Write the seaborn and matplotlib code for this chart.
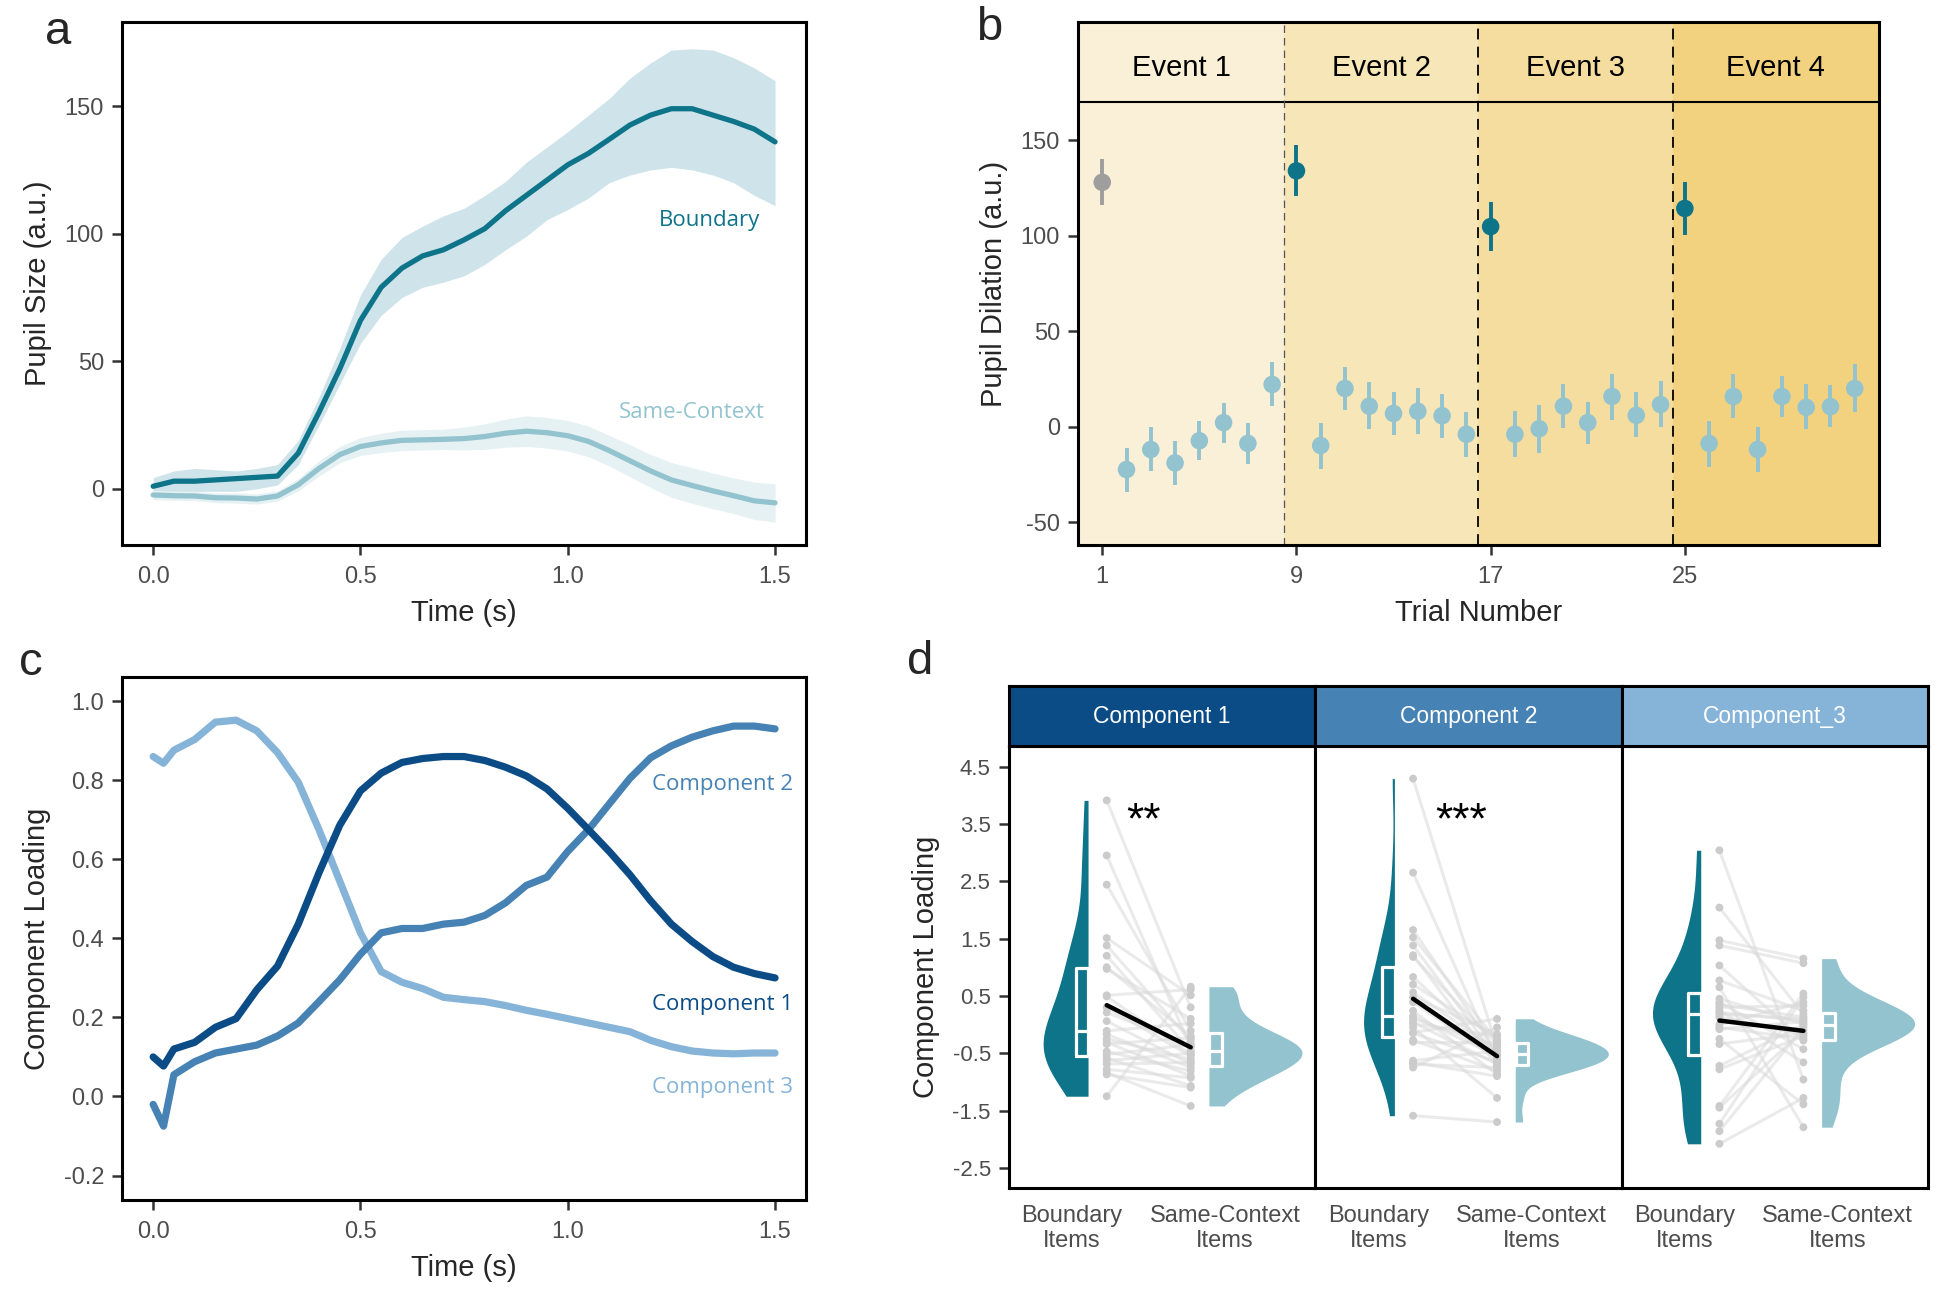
import numpy as np
import pandas as pd
import matplotlib
matplotlib.use("Agg")
import matplotlib.pyplot as plt
import seaborn as sns

sns.set_style("white")
plt.rcParams['font.family'] = ['Liberation Sans', 'DejaVu Sans']

# ---------------- Panel a data ----------------
time_a = [0.00, 0.05, 0.10, 0.15, 0.20, 0.25, 0.30, 0.35, 0.40, 0.45, 0.50,
          0.55, 0.60, 0.65, 0.70, 0.75, 0.80, 0.85, 0.90, 0.95, 1.00,
          1.05, 1.10, 1.15, 1.20, 1.25, 1.30, 1.35, 1.40, 1.45, 1.50]
bnd_mean = [1, 3, 3, 3.5, 4, 4.5, 5, 14, 30, 47, 66, 79, 86.5, 91.3, 93.7, 97.6,
            102, 109, 115, 121, 127, 131.5, 137, 142.6, 146.5, 149, 149, 146.5, 144, 141, 136]
bnd_hi = [4.4, 7, 8, 7.5, 7, 8, 9.5, 19, 36, 55, 76, 90, 98.5, 103, 107, 110,
          115, 120.5, 128, 134, 140, 146.5, 153, 161, 167, 172, 172.5, 172, 169, 165, 160]
bnd_lo = [-3, -1, -1, -1, -1, 0, 1.5, 9.5, 25, 41, 57, 68, 75, 79, 81, 83.5,
          88, 93.7, 99, 105.5, 109.5, 114, 120, 123, 125, 126, 125, 123, 120, 115, 111]
same_mean = [-2.4, -2.7, -2.8, -3.5, -3.6, -4.0, -2.8, 1.6, 8, 13.4, 16.6, 18, 19, 19.2,
             19.4, 19.7, 20.5, 21.8, 22.6, 22, 20.8, 18.6, 15, 11, 7, 3.5, 1.3, -0.8, -2.7, -4.7, -5.5]
same_hi = [-0.6, -0.9, -1.0, -1.6, -1.6, -2.0, -0.8, 4.0, 11, 16.6, 20.1, 21.8, 23.0, 23.2,
           23.4, 24.2, 25.5, 27.3, 28.6, 28.0, 26.8, 24.6, 21.0, 17.3, 13.5, 10.3, 8.3, 6.2, 4.3, 2.6, 2.0]
same_lo = [-4.2, -4.5, -4.6, -5.4, -5.6, -6.0, -4.8, -0.8, 5, 10.2, 13.1, 14.2, 15.0, 15.2,
           15.4, 15.2, 15.5, 16.3, 16.6, 16.0, 14.8, 12.6, 9.0, 4.7, 0.5, -3.3, -5.7, -7.8, -9.7, -12.0, -13.0]

# ---------------- Panel b data ----------------
trials = list(range(1, 33))
dilation = [128, -22.5, -12, -19, -7.4, 2.1, -8.8, 22.1,
            134, -9.9, 20, 10.7, 6.9, 8, 5.7, -4,
            104.8, -4, -1.1, 10.7, 2.1, 15.8, 5.9, 11.6,
            114.3, -8.8, 15.8, -12, 15.8, 10.1, 10.5, 20]
dil_lo = [116, -34, -23, -30.5, -17.3, -8.4, -19.4, 10.7,
          121, -22.1, 8.6, -1.5, -4.6, -4, -6.1, -15.8,
          92.2, -15.8, -13.7, -0.8, -9.3, 3.4, -5.7, 0,
          100.6, -21, 4.4, -23.6, 4.8, -1, 0, 7.6]
dil_hi = [140.2, -11, -0.4, -7.4, 2.7, 12.6, 2.1, 33.9,
          147.4, 2.1, 31, 23.2, 18.1, 20, 17, 7.6,
          117.5, 8, 11.2, 22.3, 12.8, 27.6, 17.9, 23.8,
          128, 3.2, 27.6, -0.4, 26.5, 22.1, 21.7, 32.8]
trial_type = (["First"] + ["Same"] * 7 + ["Boundary"] + ["Same"] * 7 +
              ["Boundary"] + ["Same"] * 7 + ["Boundary"] + ["Same"] * 7)
event_labels = ["Event 1", "Event 2", "Event 3", "Event 4"]
event_start = [0, 8.5, 16.5, 24.5]
event_end = [8.5, 16.5, 24.5, 33]

# ---------------- Panel c data ----------------
time_c = [0.00, 0.025, 0.05, 0.10, 0.15, 0.20, 0.25, 0.30, 0.35, 0.40, 0.45, 0.50,
          0.55, 0.60, 0.65, 0.70, 0.75, 0.80, 0.85, 0.90, 0.95, 1.00,
          1.05, 1.10, 1.15, 1.20, 1.25, 1.30, 1.35, 1.40, 1.45, 1.50]
comp1 = [0.10, 0.077, 0.12, 0.137, 0.175, 0.197, 0.27, 0.33, 0.436, 0.566, 0.686, 0.773,
         0.818, 0.845, 0.855, 0.86, 0.86, 0.85, 0.833, 0.811, 0.778, 0.729,
         0.675, 0.62, 0.561, 0.495, 0.436, 0.392, 0.354, 0.327, 0.311, 0.30]
comp2 = [-0.02, -0.075, 0.055, 0.088, 0.11, 0.12, 0.13, 0.153, 0.186, 0.24, 0.295, 0.36,
         0.414, 0.425, 0.425, 0.436, 0.441, 0.458, 0.49, 0.534, 0.555, 0.62,
         0.675, 0.74, 0.805, 0.857, 0.887, 0.909, 0.925, 0.937, 0.937, 0.93]
comp3 = [0.86, 0.843, 0.876, 0.903, 0.947, 0.952, 0.925, 0.87, 0.795, 0.675, 0.545, 0.414,
         0.316, 0.289, 0.273, 0.251, 0.245, 0.24, 0.23, 0.218, 0.208, 0.197,
         0.186, 0.175, 0.164, 0.142, 0.126, 0.115, 0.11, 0.108, 0.11, 0.11]

# ---------------- Panel d data ----------------
d_boundary_1 = [3.91, 2.95, 2.44, 1.51, 1.38, 1.20, 1.00, 0.97, 0.51, 0.49, 0.30, 0.21, 0.06,
                -0.11, -0.17, -0.25, -0.31, -0.34, -0.47, -0.52, -0.58, -0.63, -0.69, -0.78,
                -0.84, -0.87, -1.25]
d_same_1 = [0.30, -0.40, -0.11, 0.51, -0.28, -0.46, -0.20, 0.10, 0.61, -0.52, -0.55, -0.37, -0.69,
            0.02, -0.75, -0.61, -0.90, -0.23, -0.81, -0.35, -1.07, -0.50, -0.66, -0.93,
            -1.42, -1.10, 0.66]
d_boundary_2 = [4.29, 2.65, 1.65, 1.52, 1.38, 1.21, 1.18, 0.83, 0.70, 0.56, 0.48, 0.39, 0.24,
                0.15, 0.10, 0.04, 0.01, -0.05, -0.14, -0.15, -0.27, -0.30, -0.63, -0.66,
                -0.69, -0.75, -1.59]
d_same_2 = [-0.40, -0.63, -0.49, -0.28, -0.58, -0.72, -0.34, -0.52, -0.23, -0.45, -0.17, -0.60, -0.87,
            -0.55, -0.38, -0.69, -0.20, -1.28, 0.10, -0.65, -0.81, -0.30, -0.46, -0.90,
            -0.75, -0.05, -1.70]
d_boundary_3 = [3.04, 2.04, 1.47, 1.38, 1.03, 0.77, 0.65, 0.45, 0.39, 0.35, 0.30, 0.25, 0.21,
                0.18, 0.13, 0.0, -0.05, -0.08, -0.25, -0.34, -0.72, -0.78, -1.42, -1.45,
                -1.73, -1.86, -2.08]
d_same_3 = [-0.96, 0.18, 1.15, 1.07, -0.28, 0.24, -1.79, 0.01, -0.43, 0.13, 0.33, -0.66, 0.07,
            0.10, -0.17, 0.39, -0.25, 0.05, -1.39, -0.15, 0.0, -0.20, 0.54, -0.10,
            0.48, -0.05, -1.28]
d_components = ["Component 1", "Component 2", "Component_3"]
d_stars = ["**", "***", ""]
d_xlabels = ["Boundary\nItems", "Same-Context\nItems"]

# ---------------- Styling ----------------
TEAL = "#0E7489"
LIGHT = "#93C3CE"
GREY = "#9E9E9E"
C1 = "#0B4C87"
C2 = "#4682B4"
C3 = "#86B4D9"
TICKC = "#4D4D4D"
EVENT_COLS = ["#FAF0D8", "#F7E6B8", "#F5DD9F", "#F2D27E"]
LABEL_FS = 21
TICK_FS = 17

fig = plt.figure(figsize=(19.5, 13.16), dpi=100)


def style_axes(ax):
    for s in ax.spines.values():
        s.set_visible(True)
        s.set_color("black")
        s.set_linewidth(2.2)
    ax.tick_params(axis="both", which="both", direction="out", length=7, width=1.8,
                   color="#333333", labelsize=TICK_FS, labelcolor=TICKC, pad=6,
                   bottom=True, left=True)


# ---------------- Panel a ----------------
ax_a = fig.add_axes([0.0626, 0.5859, 0.3508, 0.3974])
ax_a.fill_between(time_a, bnd_lo, bnd_hi, color="#CFE4EA", lw=0)
ax_a.fill_between(time_a, same_lo, same_hi, color="#E6F1F4", lw=0)
df_a = pd.DataFrame({"time": time_a * 2, "pupil": bnd_mean + same_mean,
                     "cond": ["Boundary"] * len(time_a) + ["Same-Context"] * len(time_a)})
sns.lineplot(data=df_a, x="time", y="pupil", hue="cond", estimator=None,
             palette={"Boundary": TEAL, "Same-Context": LIGHT}, linewidth=3.8,
             legend=False, ax=ax_a)
ax_a.set_xlim(-0.075, 1.575)
ax_a.set_ylim(-22, 183)
ax_a.set_xticks([0, 0.5, 1.0, 1.5])
ax_a.set_xticklabels(["0.0", "0.5", "1.0", "1.5"])
ax_a.set_yticks([0, 50, 100, 150])
ax_a.set_yticklabels(["0", "50", "100", "150"])
style_axes(ax_a)
ax_a.tick_params(axis="x", pad=8)
ax_a.set_xlabel("Time (s)", fontsize=LABEL_FS, labelpad=8)
ax_a.set_ylabel("Pupil Size (a.u.)", fontsize=LABEL_FS, labelpad=9)
ax_a.text(1.343, 105, "Boundary", color=TEAL, fontsize=16, family=["Open Sans"],
          ha="center", va="center")
ax_a.text(1.298, 30, "Same-Context", color=LIGHT, fontsize=16, family=["Open Sans"],
          ha="center", va="center")

# ---------------- Panel b ----------------
ax_b = fig.add_axes([0.5528, 0.5859, 0.4108, 0.3974])
for s0, s1, col in zip(event_start, event_end, EVENT_COLS):
    ax_b.axvspan(s0, s1, color=col, lw=0, zorder=0)
ax_b.axhline(170, color="black", lw=1.5, zorder=1)
ax_b.axvline(event_start[1], color="#555555", lw=0.9, ls=(0, (6, 4)), zorder=1)
for xv in event_start[2:]:
    ax_b.axvline(xv, color="black", lw=1.3, ls=(0, (6, 4)), zorder=1)
pal_b = {"First": GREY, "Boundary": TEAL, "Same": LIGHT}
ax_b.vlines(trials, dil_lo, dil_hi, colors=[pal_b[t] for t in trial_type], lw=2.8, zorder=2)
df_b = pd.DataFrame({"trial": trials, "dilation": dilation, "type": trial_type})
sns.scatterplot(data=df_b, x="trial", y="dilation", hue="type", palette=pal_b,
                s=160, edgecolor="none", legend=False, ax=ax_b, zorder=3)
for lab, s0, s1 in zip(event_labels, event_start, event_end):
    ax_b.text((s0 + s1) / 2, 188, lab, fontsize=21, ha="center", va="center", color="black")
ax_b.set_xlim(0, 33)
ax_b.set_ylim(-62, 212)
ax_b.set_xticks([1, 9, 17, 25])
ax_b.set_xticklabels(["1", "9", "17", "25"])
ax_b.set_yticks([-50, 0, 50, 100, 150])
ax_b.set_yticklabels(["-50", "0", "50", "100", "150"])
style_axes(ax_b)
ax_b.tick_params(axis="x", pad=8)
ax_b.set_xlabel("Trial Number", fontsize=LABEL_FS, labelpad=8)
ax_b.set_ylabel("Pupil Dilation (a.u.)", fontsize=LABEL_FS, labelpad=9)

# ---------------- Panel c ----------------
ax_c = fig.add_axes([0.0626, 0.0881, 0.3508, 0.3974])
df_c = pd.DataFrame({"time": time_c * 3, "loading": comp1 + comp2 + comp3,
                     "comp": ["Component 1"] * len(time_c) + ["Component 2"] * len(time_c)
                     + ["Component 3"] * len(time_c)})
sns.lineplot(data=df_c, x="time", y="loading", hue="comp", estimator=None,
             palette={"Component 1": C1, "Component 2": C2, "Component 3": C3},
             hue_order=["Component 3", "Component 2", "Component 1"],
             linewidth=5.2, legend=False, ax=ax_c)
ax_c.set_xlim(-0.075, 1.575)
ax_c.set_ylim(-0.262, 1.061)
ax_c.set_xticks([0, 0.5, 1.0, 1.5])
ax_c.set_xticklabels(["0.0", "0.5", "1.0", "1.5"])
ax_c.set_yticks([-0.2, 0.0, 0.2, 0.4, 0.6, 0.8, 1.0])
ax_c.set_yticklabels(["-0.2", "0.0", "0.2", "0.4", "0.6", "0.8", "1.0"])
style_axes(ax_c)
ax_c.tick_params(axis="x", pad=8)
ax_c.set_xlabel("Time (s)", fontsize=LABEL_FS, labelpad=8)
ax_c.set_ylabel("Component Loading", fontsize=LABEL_FS, labelpad=9)
for lab, yv, col in [("Component 2", 0.789, C2), ("Component 1", 0.2315, C1),
                     ("Component 3", 0.023, C3)]:
    ax_c.text(1.374, yv, lab, color=col, fontsize=16, family=["Open Sans"],
              ha="center", va="center")

# ---------------- Panel d ----------------
d_bvals = [d_boundary_1, d_boundary_2, d_boundary_3]
d_svals = [d_same_1, d_same_2, d_same_3]
strip_cols = [C1, C2, C3]
lefts = [0.5174, 0.6745, 0.8316]
fw = 0.1571
VPOS = {"Boundary": 1.105, "Same": 1.895}
BPOS = {"Boundary": 1.066, "Same": 1.938}
PPOS = {"Boundary": 1.227, "Same": 1.776}
for i in range(3):
    ax = fig.add_axes([lefts[i], 0.0973, fw, 0.3359])
    b = d_bvals[i]
    s = d_svals[i]
    n = len(b)
    df = pd.DataFrame({"subj": list(range(n)) * 2,
                       "cond": ["Boundary"] * n + ["Same"] * n,
                       "val": b + s})
    df["vpos"] = df["cond"].map(VPOS)
    df["bpos"] = df["cond"].map(BPOS)
    df["ppos"] = df["cond"].map(PPOS)
    sns.violinplot(data=df, x="vpos", y="val", hue="cond", hue_order=["Boundary", "Same"],
                   palette={"Boundary": TEAL, "Same": LIGHT}, split=True, dodge=True,
                   native_scale=True, orient="x", inner=None, cut=0,
                   density_norm="area", common_norm=True, bw_method="silverman",
                   bw_adjust=0.85, width=1.54, linewidth=0, saturation=1,
                   legend=False, ax=ax)
    sns.boxplot(data=df, x="bpos", y="val", native_scale=True, orient="x",
                width=0.095, fill=False, color="white", linewidth=2.3, whis=0,
                showfliers=False, showcaps=False, ax=ax)
    sns.lineplot(data=df, x="ppos", y="val", units="subj", estimator=None,
                 color="#DADADA", alpha=0.55, linewidth=2.2, ax=ax)
    sns.scatterplot(data=df, x="ppos", y="val", color="#CBCBCB", s=32,
                    edgecolor="none", ax=ax, zorder=4)
    sns.lineplot(data=df, x="ppos", y="val", estimator="mean", errorbar=None,
                 color="black", linewidth=3.2, ax=ax, zorder=5)
    if d_stars[i]:
        ax.text(1.47 if i == 0 else 1.54, 3.33, d_stars[i], fontsize=32,
                ha="center", va="baseline", color="black")
    ax.set_xlim(0.588, 2.59)
    ax.set_ylim(-2.85, 4.86)
    ax.set_xticks([1, 2])
    ax.set_xticklabels(d_xlabels)
    ax.set_xlabel("")
    ax.set_ylabel("")
    style_axes(ax)
    ax.tick_params(axis="x", length=0, pad=12)
    ax.tick_params(axis="y", labelsize=16)
    if i == 0:
        ax.set_yticks([-2.5, -1.5, -0.5, 0.5, 1.5, 2.5, 3.5, 4.5])
        ax.set_yticklabels(["-2.5", "-1.5", "-0.5", "0.5", "1.5", "2.5", "3.5", "4.5"])
        ax.set_ylabel("Component Loading", fontsize=LABEL_FS, labelpad=9)
    else:
        ax.set_yticks([])
    # strip
    sax = fig.add_axes([lefts[i], 0.4331, fw, 0.0456])
    sax.set_facecolor(strip_cols[i])
    sax.set_xticks([])
    sax.set_yticks([])
    for sp in sax.spines.values():
        sp.set_visible(True)
        sp.set_color("black")
        sp.set_linewidth(2.2)
    sax.text(0.5, 0.5, d_components[i], color="white", fontsize=16.5,
             ha="center", va="center", transform=sax.transAxes)

# panel letters
for lab, xx, yy in [("a", 0.030, 0.976), ("b", 0.507, 0.979),
                    ("c", 0.016, 0.496), ("d", 0.472, 0.497)]:
    fig.text(xx, yy, lab, fontsize=34, ha="center", va="center")

fig.savefig("out.png", dpi=100)
